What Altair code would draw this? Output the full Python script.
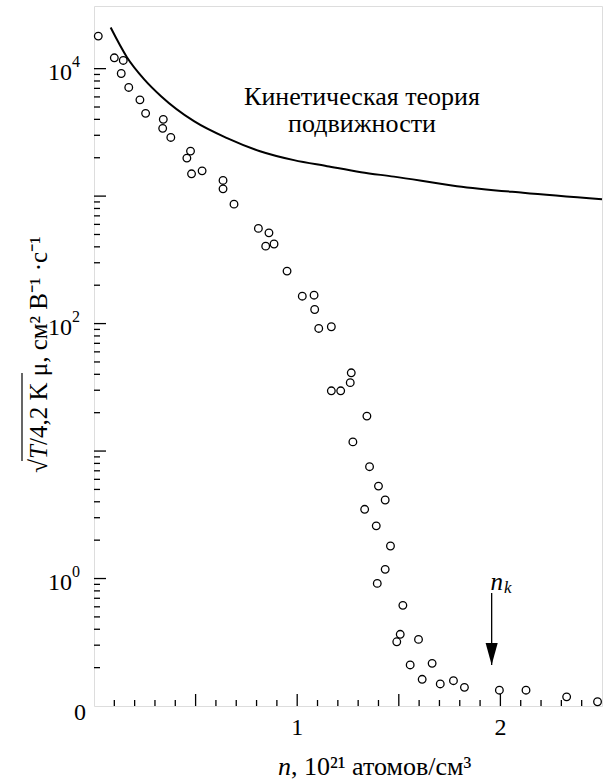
import altair as alt
import pandas as pd

FONT = "Liberation Serif"

# ---- experimental points: n (10^21 atoms/cm^3), sqrt(T/4.2K)*mu ----
n_exp = [0.021, 0.100, 0.144, 0.134, 0.171, 0.226, 0.254, 0.341, 0.338, 0.378,
         0.475, 0.457, 0.480, 0.532, 0.635, 0.635, 0.689, 0.809, 0.861, 0.845,
         0.886, 0.950, 1.025, 1.083, 1.086, 1.106, 1.168, 1.266, 1.261, 1.168,
         1.214, 1.343, 1.274, 1.356, 1.400, 1.433, 1.332, 1.389, 1.459, 1.433,
         1.394, 1.520, 1.507, 1.490, 1.597, 1.556, 1.664, 1.615, 1.704, 1.769,
         1.823, 1.995, 2.126, 2.326, 2.478]
mu_exp = [18000, 12160, 11590, 9160, 7120, 5690, 4460, 4000, 3400, 2885,
          2255, 1987, 1496, 1578, 1327, 1140, 865, 558, 515, 405,
          421, 258, 164, 167, 129, 91.6, 94.4, 41.1, 34.4, 29.7,
          29.7, 18.8, 11.8, 7.54, 5.31, 4.13, 3.49, 2.59, 1.80, 1.18,
          0.916, 0.616, 0.365, 0.319, 0.333, 0.210, 0.216, 0.162, 0.149, 0.158,
          0.140, 0.133, 0.133, 0.118, 0.108]

# ---- kinetic theory curve ----
n_theory = [0.082, 0.162, 0.246, 0.330, 0.492, 0.655, 0.817, 0.984, 1.147,
            1.314, 1.476, 1.786, 2.111, 2.500]
mu_theory = [21000, 12300, 8280, 6080, 3870, 2850, 2250, 1915, 1718,
             1540, 1422, 1197, 1062, 946]

# ---- axis ticks / labels ----
y_major_ticks = [1, 10, 100, 1000, 10000]
y_minor_ticks = [0.2, 0.3, 0.4, 0.5, 0.6, 0.7, 0.8, 0.9,
                 2, 3, 4, 5, 6, 7, 8, 9,
                 20, 30, 40, 50, 60, 70, 80, 90,
                 200, 300, 400, 500, 600, 700, 800, 900,
                 2000, 3000, 4000, 5000, 6000, 7000, 8000, 9000]
x_major_ticks = [0.5, 1.0, 1.5, 2.0]
x_minor_ticks = [0.1, 0.2, 0.3, 0.4, 0.6, 0.7, 0.8, 0.9,
                 1.1, 1.2, 1.3, 1.4, 1.6, 1.7, 1.8, 1.9,
                 2.1, 2.2, 2.3, 2.4]

y_label_values = [10000, 100, 1]
y_label_base = ["10", "10", "10"]
y_label_exp = ["4", "2", "0"]
y_zero_value = [0.1]
y_zero_text = ["0"]
x_label_values = [1, 2]
x_label_text = ["1", "2"]

theory_text = ["Кинетическая теория", "подвижности"]
theory_text_n = [1.319, 1.319]
theory_text_mu = [6030, 3700]

nk_position = [1.957]
arrow_top = [0.77]
arrow_tip = [0.21]

xs = alt.Scale(domain=[0, 2.5], nice=False, zero=False)
ys = alt.Scale(type="log", domain=[0.1, 31000], nice=False)


def X(f):
    return alt.X(f, type="quantitative", scale=xs, axis=None)


def Y(f):
    return alt.Y(f, type="quantitative", scale=ys, axis=None)


one = pd.DataFrame({"a": [0]})

points = alt.Chart(pd.DataFrame({"n": n_exp, "mu": mu_exp})).mark_point(
    shape="circle", filled=False, color="black", size=58, strokeWidth=1.3, opacity=1
).encode(x=X("n"), y=Y("mu"))

theory = alt.Chart(pd.DataFrame({"n": n_theory, "mu": mu_theory})).mark_line(
    color="black", strokeWidth=2, interpolate="monotone"
).encode(x=X("n"), y=Y("mu"))

tick_style = dict(color="black", strokeWidth=1.3)
yt_major = alt.Chart(pd.DataFrame({"v": y_major_ticks})).mark_rule(**tick_style).encode(
    y=Y("v"), x=alt.value(0), x2=alt.value(12))
yt_minor = alt.Chart(pd.DataFrame({"v": y_minor_ticks})).mark_rule(**tick_style).encode(
    y=Y("v"), x=alt.value(0), x2=alt.value(6))
xt_major = alt.Chart(pd.DataFrame({"v": x_major_ticks})).mark_rule(**tick_style).encode(
    x=X("v"), y=alt.value(700), y2=alt.value(688))
xt_minor = alt.Chart(pd.DataFrame({"v": x_minor_ticks})).mark_rule(**tick_style).encode(
    x=X("v"), y=alt.value(700), y2=alt.value(694))

ylab_df = pd.DataFrame({"v": y_label_values, "b": y_label_base, "e": y_label_exp})
ylab = alt.Chart(ylab_df).mark_text(
    font=FONT, fontSize=24, align="right", baseline="middle", dy=4, color="black"
).encode(y=Y("v"), x=alt.value(-22), text="b:N")
ylab_exp = alt.Chart(ylab_df).mark_text(
    font=FONT, fontSize=16, align="left", baseline="middle", dy=-7, color="black"
).encode(y=Y("v"), x=alt.value(-22), text="e:N")
ylab_zero = alt.Chart(pd.DataFrame({"v": y_zero_value, "t": y_zero_text})).mark_text(
    font=FONT, fontSize=24, align="right", baseline="middle", dy=7, color="black"
).encode(y=Y("v"), x=alt.value(-8), text="t:N")

xlab = alt.Chart(pd.DataFrame({"v": x_label_values, "t": x_label_text})).mark_text(
    font=FONT, fontSize=24, align="center", baseline="middle", color="black"
).encode(x=X("v"), y=alt.value(722), text="t:N")

# x title
xt_n = alt.Chart(one).mark_text(
    font=FONT, fontSize=26, fontStyle="italic", align="right", baseline="alphabetic", color="black"
).encode(x=alt.value(197), y=alt.value(769), text=alt.value("n"))
xt_rest = alt.Chart(one).mark_text(
    font=FONT, fontSize=26, align="left", baseline="alphabetic", color="black"
).encode(x=alt.value(197), y=alt.value(769), text=alt.value(", 10²¹ атомов/см³"))

# y title (rotated)
yt_sqrt = alt.Chart(one).mark_text(
    font=FONT, fontSize=25, angle=270, align="right", baseline="alphabetic", color="black"
).encode(x=alt.value(-47), y=alt.value(453), text=alt.value("√"))
yt_T = alt.Chart(one).mark_text(
    font=FONT, fontSize=25, angle=270, fontStyle="italic", align="left", baseline="alphabetic", color="black"
).encode(x=alt.value(-47), y=alt.value(453), text=alt.value("T"))
yt_rest = alt.Chart(one).mark_text(
    font=FONT, fontSize=25, angle=270, align="left", baseline="alphabetic", color="black"
).encode(x=alt.value(-47), y=alt.value(439), text=alt.value("/4,2 K μ, см² В⁻¹ ·с⁻¹"))
yt_bar = alt.Chart(one).mark_rule(color="black", strokeWidth=1.2).encode(
    x=alt.value(-72), y=alt.value(367), y2=alt.value(455))

# annotation
theory_lab = alt.Chart(pd.DataFrame({"n": theory_text_n, "mu": theory_text_mu, "t": theory_text})).mark_text(
    font=FONT, fontSize=26, align="center", baseline="middle", color="black"
).encode(x=X("n"), y=Y("mu"), text="t:N")

# n_k arrow
arrow_df = pd.DataFrame({"n": nk_position, "top": arrow_top, "tip": arrow_tip})
arrow_line = alt.Chart(arrow_df).mark_rule(color="black", strokeWidth=1.3).encode(
    x=X("n"), y=Y("top"), y2=alt.Y2("tip"))
arrow_head = alt.Chart(arrow_df).mark_point(
    shape="M-0.55,-2L0.55,-2L0,0Z", size=484, filled=True, color="black", opacity=1, strokeWidth=0
).encode(x=X("n"), y=Y("tip"))
nk_n = alt.Chart(arrow_df).mark_text(
    font=FONT, fontSize=25, fontStyle="italic", align="center", baseline="alphabetic", dx=5, dy=-3, color="black"
).encode(x=X("n"), y=Y("top"), text=alt.value("n"))
nk_k = alt.Chart(arrow_df).mark_text(
    font=FONT, fontSize=17, fontStyle="italic", align="center", baseline="alphabetic", dx=16, dy=0, color="black"
).encode(x=X("n"), y=Y("top"), text=alt.value("k"))

chart = alt.layer(
    yt_major, yt_minor, xt_major, xt_minor,
    theory, points,
    ylab, ylab_exp, ylab_zero, xlab,
    xt_n, xt_rest, yt_sqrt, yt_T, yt_rest, yt_bar,
    theory_lab, arrow_line, arrow_head, nk_n, nk_k,
).properties(
    width=508, height=700,
    autosize=alt.AutoSizeParams(type="none"),
    padding={"left": 94, "top": 6, "right": 3, "bottom": 74},
).configure_view(stroke="black", strokeWidth=1.5).configure(background="white")

chart.save("out.html", embed_options={"renderer": "svg", "actions": False})
